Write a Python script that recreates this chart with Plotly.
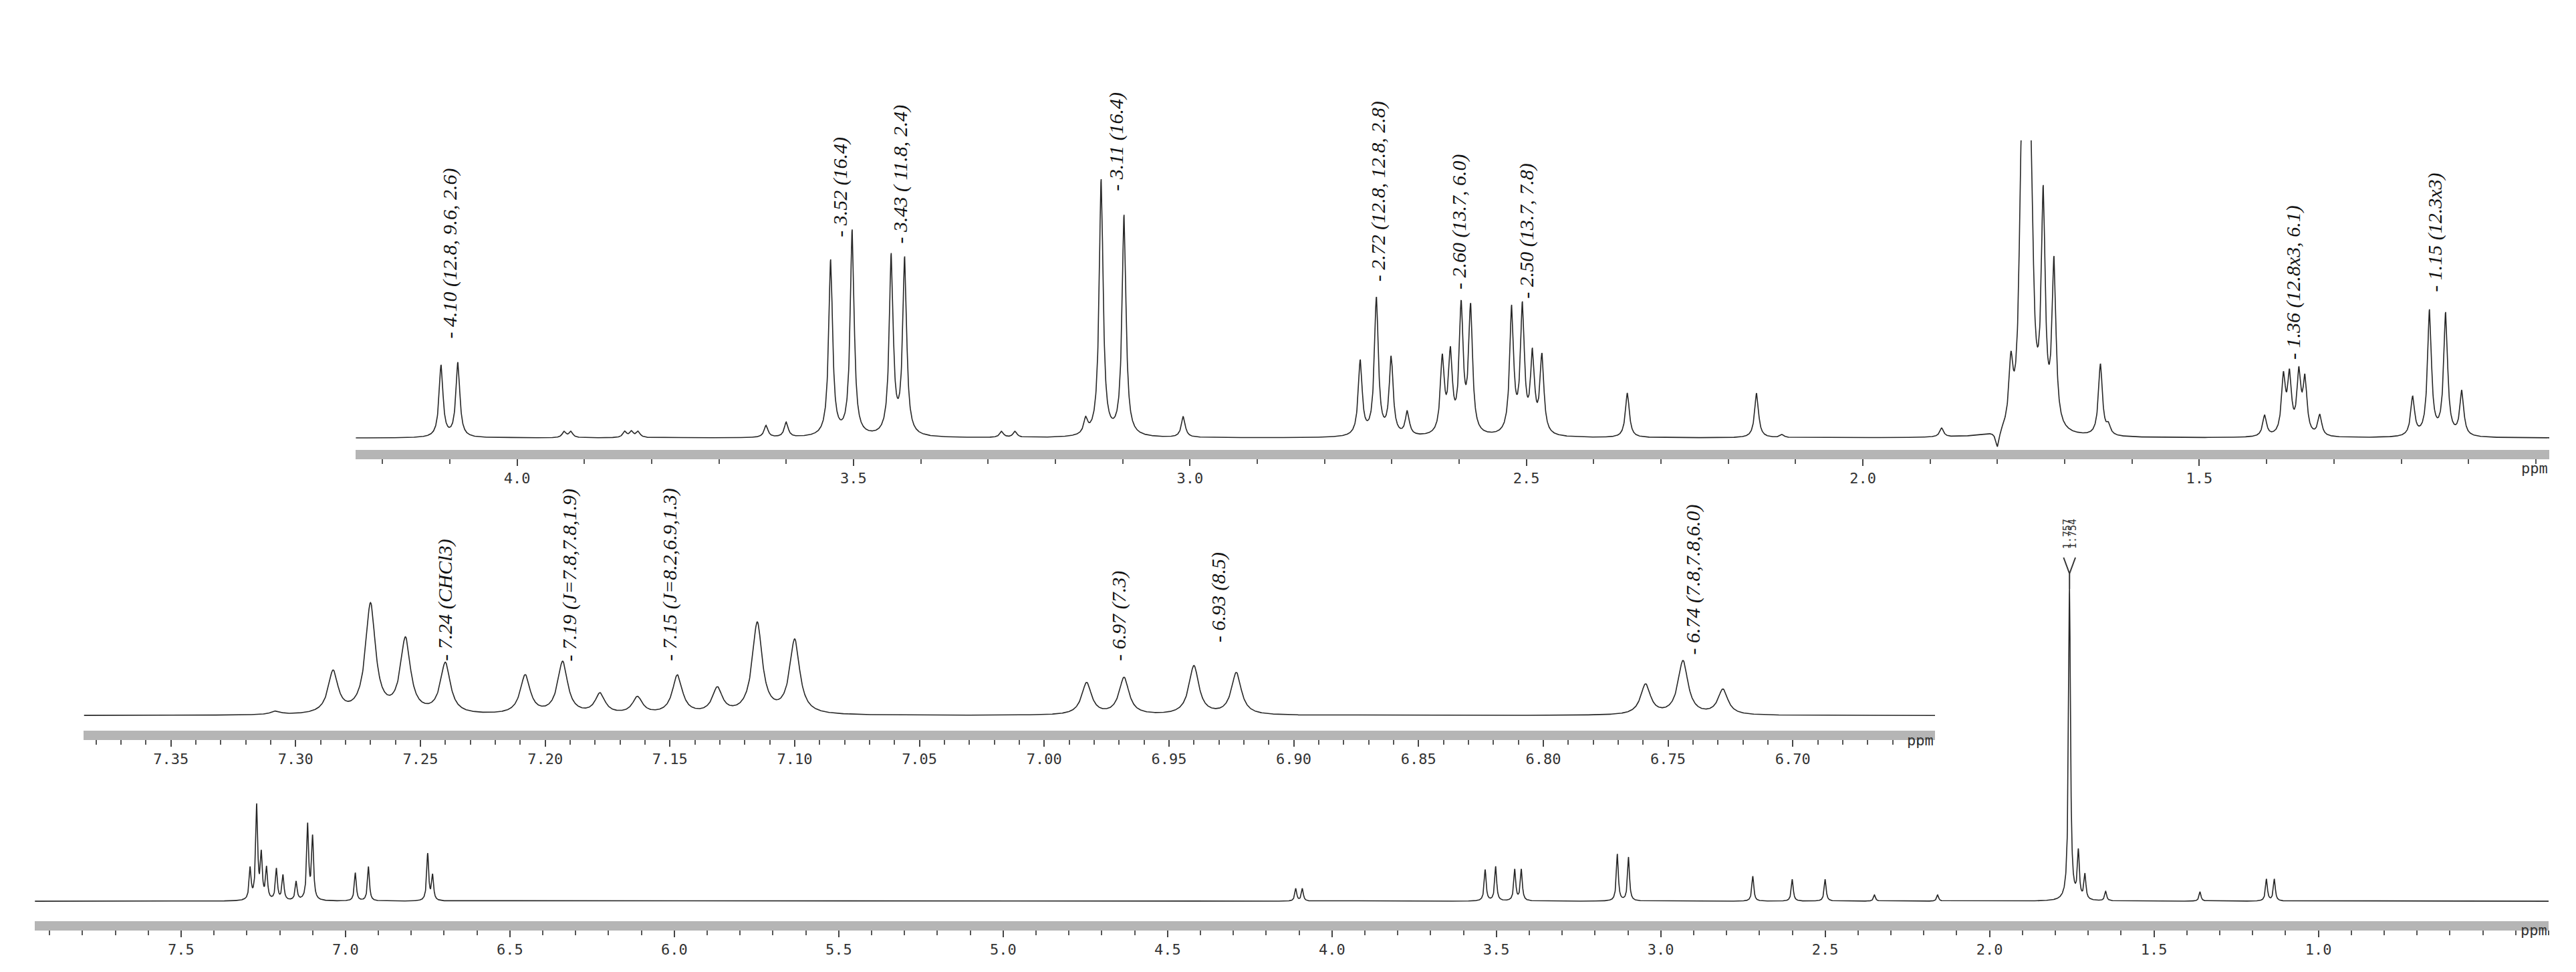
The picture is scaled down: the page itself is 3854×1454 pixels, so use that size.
import numpy as np
import plotly.graph_objects as go

# ---- peak lists (ppm, relative height) ----
top_pos = [4.113, 4.088, 3.93, 3.92, 3.84, 3.83, 3.82, 3.63, 3.60, 3.534, 3.502, 3.444, 3.424,
           3.28, 3.26, 3.155, 3.132, 3.098, 3.01, 2.747, 2.723, 2.701, 2.677,
           2.625, 2.613, 2.597, 2.583, 2.522, 2.506, 2.491, 2.477, 2.35, 2.158, 2.12, 1.883,
           1.80, 1.78, 1.765, 1.758, 1.752, 1.732, 1.716, 1.647, 1.635,
           1.403, 1.375, 1.366, 1.352, 1.343, 1.321, 1.183, 1.158, 1.134, 1.110]
top_h = [0.24, 0.25, 0.02, 0.02, 0.02, 0.02, 0.02, 0.04, 0.05, 0.59, 0.69, 0.60, 0.59,
         0.02, 0.02, 0.05, 0.86, 0.74, 0.07, 0.25, 0.46, 0.26, 0.08,
         0.25, 0.26, 0.42, 0.42, 0.42, 0.42, 0.26, 0.26, 0.15, 0.15, 0.01, 0.03,
         -0.06, 0.2, 0.6, 1.4, 1.4, 0.75, 0.55, 0.24, 0.03,
         0.07, 0.19, 0.19, 0.2, 0.18, 0.07, 0.13, 0.42, 0.41, 0.15]

mid_pos = [7.308, 7.285, 7.270, 7.256, 7.240, 7.208, 7.193, 7.178, 7.163, 7.147, 7.131,
           7.115, 7.100, 6.983, 6.968, 6.940, 6.923, 6.759, 6.744, 6.728]
mid_h = [0.02, 0.25, 0.65, 0.44, 0.30, 0.23, 0.31, 0.12, 0.10, 0.23, 0.15,
         0.54, 0.44, 0.19, 0.22, 0.29, 0.25, 0.18, 0.32, 0.15]

bot_pos = [7.29, 7.27, 7.256, 7.24, 7.21, 7.19, 7.15, 7.115, 7.10, 6.97, 6.93, 6.75, 6.735,
           4.11, 4.09, 3.534, 3.502, 3.444, 3.424, 3.132, 3.098, 2.72, 2.60, 2.50, 2.35, 2.158,
           1.757, 1.73, 1.71, 1.647, 1.36, 1.158, 1.134]
bot_h = [0.10, 0.30, 0.14, 0.10, 0.10, 0.08, 0.06, 0.24, 0.20, 0.09, 0.11, 0.15, 0.08,
         0.04, 0.04, 0.10, 0.11, 0.10, 0.10, 0.15, 0.14, 0.08, 0.07, 0.07, 0.02, 0.02,
         1.0, 0.15, 0.08, 0.03, 0.03, 0.07, 0.07]

top_labels = [(4.10, "- 4.10 (12.8, 9.6, 2.6)", 500), (3.52, "- 3.52 (16.4)", 349),
              (3.43, "- 3.43 ( 11.8, 2.4)", 358), (3.11, "- 3.11 (16.4)", 280),
              (2.72, "- 2.72 (12.8, 12.8, 2.8)", 415), (2.60, "- 2.60 (13.7, 6.0)", 427),
              (2.50, "- 2.50 (13.7, 7.8)", 441), (1.36, "- 1.36 (12.8x3, 6.1)", 532),
              (1.15, "- 1.15 (12.3x3)", 431)]
mid_labels = [(7.24, "- 7.24 (CHCl3)", 983), (7.19, "- 7.19 (J=7.8,7.8,1.9)", 983),
              (7.15, "- 7.15 (J=8.2,6.9,1.3)", 983), (6.97, "- 6.97 (7.3)", 983),
              (6.93, "- 6.93 (8.5)", 955), (6.74, "- 6.74 (7.8,7.8,6.0)", 973)]

W, H = 3854, 1454


def spectrum(lo, hi, pos, hts, w, step):
    x = np.arange(lo, hi, step)
    y = np.zeros_like(x)
    for p, h in zip(pos, hts):
        y += h / (1 + ((x - p) / w) ** 2)
    return x, y


def fy(px):
    return 1 - px / H


fig = go.Figure()

x1, y1 = spectrum(0.98, 4.24, top_pos, top_h, 0.0035, 0.0004)
x2, y2 = spectrum(6.643, 7.385, mid_pos, mid_h, 0.0024, 0.0002)
x3, y3 = spectrum(0.30, 7.945, bot_pos, bot_h, 0.0035, 0.0005)

line = dict(color="#262626", width=1.6)
fig.add_trace(go.Scatter(x=x1, y=y1, mode="lines", line=line, xaxis="x", yaxis="y"))
fig.add_trace(go.Scatter(x=x2, y=y2, mode="lines", line=line, xaxis="x2", yaxis="y2"))
fig.add_trace(go.Scatter(x=x3, y=y3, mode="lines", line=line, xaxis="x3", yaxis="y3"))

tickfont = dict(family="DejaVu Sans Mono", size=22, color="#333")
axis_common = dict(showgrid=False, zeroline=False, showline=True, linecolor="#b5b5b5",
                   linewidth=14, ticks="outside", ticklen=10, tickcolor="#444", tickwidth=2,
                   tickfont=tickfont)

fig.update_layout(
    width=W, height=H, margin=dict(l=0, r=0, t=0, b=0),
    plot_bgcolor="rgba(0,0,0,0)", paper_bgcolor="white", showlegend=False,
    xaxis=dict(domain=[524 / W, 3806 / W], range=[4.24, 0.98], anchor="y",
               tickvals=[4.0, 3.5, 3.0, 2.5, 2.0, 1.5], ticktext=["4.0", "3.5", "3.0", "2.5", "2.0", "1.5"],
               minor=dict(dtick=0.1, ticklen=7, tickcolor="#555", ticks="outside"), **axis_common),
    yaxis=dict(domain=[fy(665), fy(202)], range=[-0.04, 1.0], visible=False),
    xaxis2=dict(domain=[117 / W, 2887 / W], range=[7.385, 6.643], anchor="y2",
                tickvals=[7.35, 7.30, 7.25, 7.20, 7.15, 7.10, 7.05, 7.00, 6.95, 6.90, 6.85, 6.80, 6.75, 6.70],
                ticktext=["7.35", "7.30", "7.25", "7.20", "7.15", "7.10", "7.05", "7.00", "6.95",
                          "6.90", "6.85", "6.80", "6.75", "6.70"],
                minor=dict(dtick=0.01, ticklen=7, tickcolor="#555", ticks="outside"), **axis_common),
    yaxis2=dict(domain=[fy(1085), fy(811)], range=[-0.09, 1.0], visible=False),
    xaxis3=dict(domain=[44 / W, 3805 / W], range=[7.945, 0.30], anchor="y3",
                tickvals=[8.0, 7.5, 7.0, 6.5, 6.0, 5.5, 5.0, 4.5, 4.0, 3.5, 3.0, 2.5, 2.0, 1.5, 1.0],
                ticktext=["8.0", "7.5", "7.0", "6.5", "6.0", "5.5", "5.0", "4.5", "4.0", "3.5", "3.0",
                          "2.5", "2.0", "1.5", "1.0"],
                minor=dict(dtick=0.1, ticklen=7, tickcolor="#555", ticks="outside"), **axis_common),
    yaxis3=dict(domain=[fy(1370), fy(873)], range=[-0.064, 1.0], visible=False),
)

hand = dict(family="Liberation Serif", size=30, color="#111")
for x, t, ybot in top_labels:
    fig.add_annotation(x=x, xref="x", y=fy(ybot), yref="paper", text="<i>%s</i>" % t,
                       textangle=-90, yanchor="bottom", showarrow=False, font=hand)
for x, t, ybot in mid_labels:
    fig.add_annotation(x=x, xref="x2", y=fy(ybot), yref="paper", text="<i>%s</i>" % t,
                       textangle=-90, yanchor="bottom", showarrow=False, font=hand)

# peak pick of the big signal in the full spectrum
for x, t in [(1.764, "1.757"), (1.748, "1.754")]:
    fig.add_annotation(x=x, xref="x3", y=fy(815), yref="paper", text=t, textangle=-90,
                       yanchor="bottom", showarrow=False,
                       font=dict(family="DejaVu Sans Mono", size=15, color="#333"))
fig.add_shape(type="line", xref="x3", yref="paper", x0=1.775, x1=1.757, y0=fy(826), y1=fy(850),
              line=dict(color="#333", width=2))
fig.add_shape(type="line", xref="x3", yref="paper", x0=1.739, x1=1.757, y0=fy(826), y1=fy(850),
              line=dict(color="#333", width=2))
fig.add_shape(type="line", xref="x3", yref="paper", x0=1.757, x1=1.757, y0=fy(850), y1=fy(873),
              line=dict(color="#333", width=2))

for xp, yp in [(3806, 692), (2887, 1114), (3805, 1398)]:
    fig.add_annotation(x=xp / W, xref="paper", y=fy(yp), yref="paper", text="ppm",
                       xanchor="right", showarrow=False, font=tickfont)

fig.write_html("out.html")
